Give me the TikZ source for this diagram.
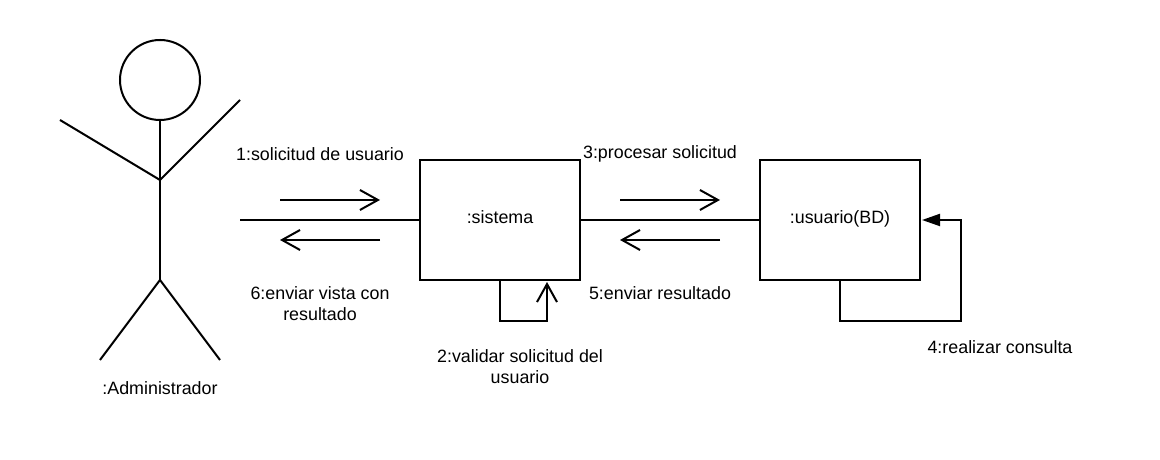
\documentclass[tikz,border=0pt]{standalone}
\usepackage{fontspec}
\setmainfont{Liberation Sans}
\usetikzlibrary{arrows.meta, calc}

\begin{document}
\begin{tikzpicture}[line width=0.05cm, font=\fontsize{12.7}{15}\selectfont,
    objbox/.style={draw, minimum width=4cm, minimum height=3cm, text height=0.28cm, text depth=0.1cm},
    msg/.style={align=center},
    open/.style={-{Straight Barb[length=0.45cm, width=0.5cm, line width=0.05cm]}},
    solid tip/.style={-{Triangle[length=0.45cm, width=0.3cm]}}]
  \useasboundingbox (0,0) rectangle (29,11.5);

  % Actor
  \node[draw, circle, minimum size=2cm] (head) at (4,9.5) {};
  \coordinate (waist) at (4,7);
  \coordinate (crotch) at (4,4.5);
  \coordinate (lefthand) at (1.5,8.5);
  \coordinate (righthand) at (6,9);
  \coordinate (leftfoot) at (2.5,2.5);
  \coordinate (rightfoot) at (5.5,2.5);
  \draw (head.south) -- (crotch);
  \draw (lefthand) -- (waist) -- (righthand);
  \draw (leftfoot) -- (crotch) -- (rightfoot);
  \node[msg] (actorname) at (4,1.8) {:Administrador};

  % Objects
  \node[objbox] (sistema) at (12.5,6) {:sistema};
  \node[objbox] (usuario) at (21,6) {:usuario(BD)};
  \coordinate (actorlink) at (6,6);
  \draw (actorlink) -- (sistema.west);
  \draw (sistema.east) -- (usuario.west);

  % Mensajes
  \coordinate (m1a) at (7,6.5);
  \coordinate (m1b) at (9.5,6.5);
  \coordinate (m6a) at (9.5,5.5);
  \coordinate (m6b) at (7,5.5);
  \coordinate (m3a) at (15.5,6.5);
  \coordinate (m3b) at (18,6.5);
  \coordinate (m5a) at (18,5.5);
  \coordinate (m5b) at (15.5,5.5);
  \draw[open] (m1a) -- (m1b);
  \draw[open] (m6a) -- (m6b);
  \draw[open] (m3a) -- (m3b);
  \draw[open] (m5a) -- (m5b);

  % Self loops
  \coordinate (loopa) at (13.675,4.45);
  \draw[open] (sistema.south) -- (12.5,3.475) -| (loopa);
  \coordinate (loopb) at (23.05,6);
  \draw[solid tip] (usuario.south) -- (21,3.475) -| (24.025,6) -- (loopb);

  % Labels
  \node[msg] (l1) at (8,7.65) {1:solicitud de usuario};
  \node[msg] (l3) at (16.5,7.65) {3:procesar solicitud};
  \node[msg] (l6) at (8,3.9) {6:enviar vista con\\resultado};
  \node[msg] (l5) at (16.5,4.175) {5:enviar resultado};
  \node[msg] (l2) at (13,2.325) {2:validar solicitud del\\usuario};
  \node[msg] (l4) at (25,2.825) {4:realizar consulta};
\end{tikzpicture}
\end{document}
